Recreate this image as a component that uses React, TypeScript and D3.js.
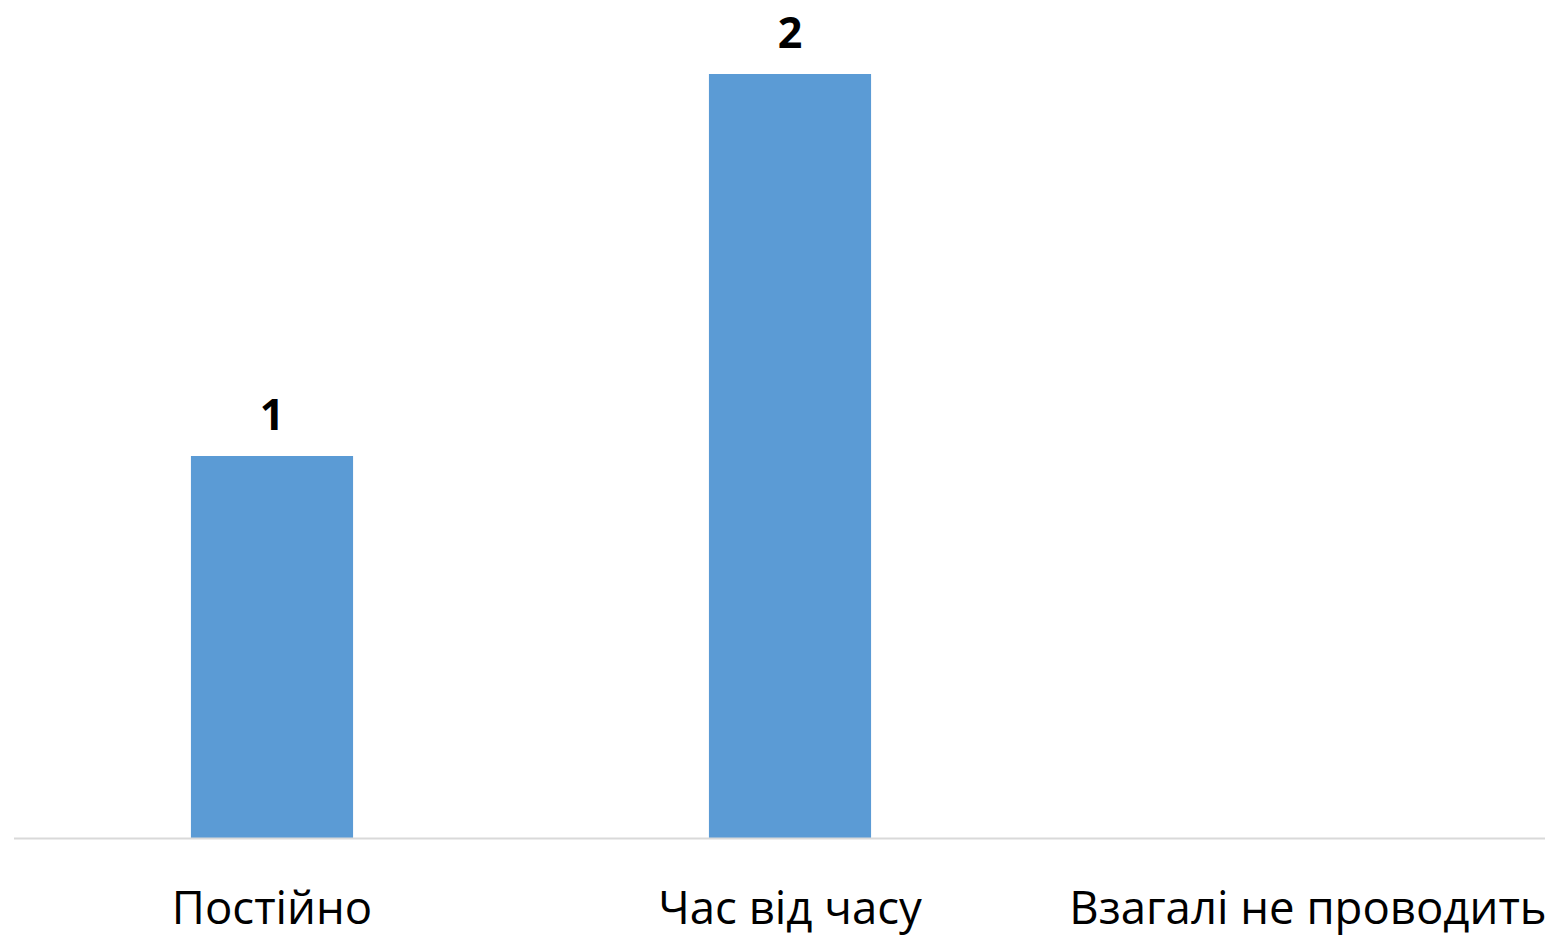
import React from "react";
import * as d3 from "d3";

const categories = ["Постійно", "Час від часу", "Взагалі не проводить"];
const values = [1, 2, 0];

export default function App() {
  const W = 1545;
  const H = 936;
  const x = d3
    .scaleBand<string>()
    .domain(categories)
    .range([13, 1567])
    .paddingInner(0.687)
    .paddingOuter(0.3435);
  const y = d3.scaleLinear().domain([0, 2]).range([838, 74]);
  const font = "Open Sans, Lato, sans-serif";
  return (
    <svg
      width={W}
      height={H}
      style={{ position: "absolute", left: 0, top: 0, display: "block", background: "#fff" }}
    >
      {categories.map((c, i) =>
        values[i] > 0 ? (
          <rect
            key={c}
            x={x(c)!}
            y={y(values[i])}
            width={x.bandwidth()}
            height={y(0) - y(values[i])}
            fill="#5b9bd5"
          />
        ) : null
      )}
      <line x1={14} x2={W} y1={y(0) + 0.5} y2={y(0) + 0.5} stroke="#d9d9d9" strokeWidth={2} />
      {categories.map((c, i) =>
        values[i] > 0 ? (
          <text
            key={"v" + c}
            x={x(c)! + x.bandwidth() / 2}
            y={y(values[i]) - 26}
            textAnchor="middle"
            fontFamily={font}
            fontWeight="bold"
            fontSize={43}
            fill="#000"
          >
            {values[i]}
          </text>
        ) : null
      )}
      {categories.map((c) => (
        <text
          key={"l" + c}
          x={x(c)! + x.bandwidth() / 2}
          y={924}
          textAnchor="middle"
          fontFamily={font}
          fontSize={45.5}
          fill="#000"
        >
          {c}
        </text>
      ))}
    </svg>
  );
}
